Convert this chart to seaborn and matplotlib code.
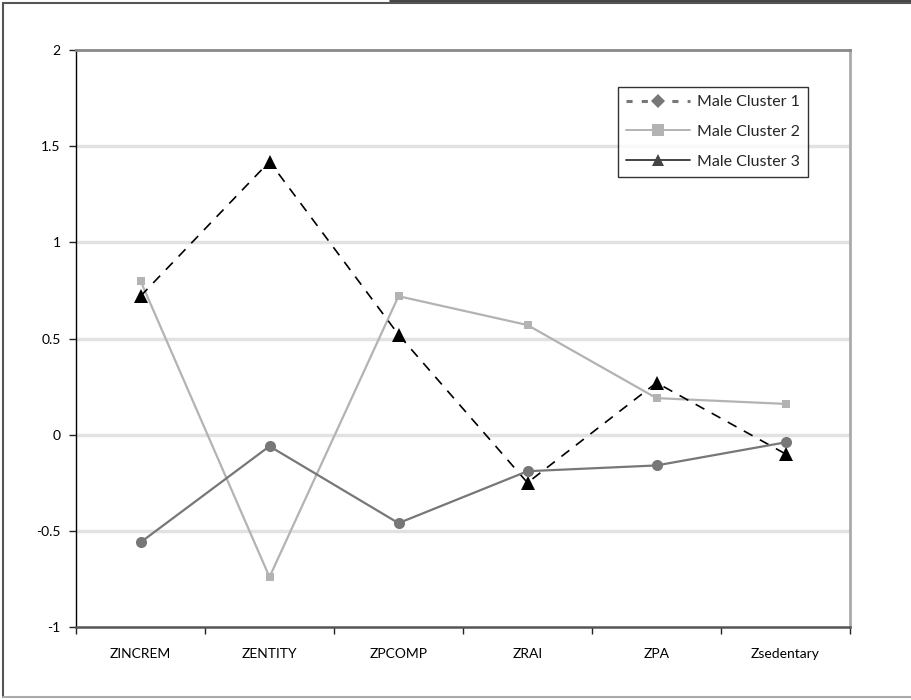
import matplotlib
matplotlib.use("Agg")
import matplotlib.pyplot as plt
from matplotlib.lines import Line2D
import seaborn as sns
import pandas as pd

# Cluster profile data (z-scores per variable)
categories = ["ZINCREM", "ZENTITY", "ZPCOMP", "ZRAI", "ZPA", "Zsedentary"]
cluster1 = [0.72, 1.42, 0.52, -0.25, 0.27, -0.10]
cluster2 = [0.80, -0.74, 0.72, 0.57, 0.19, 0.16]
cluster3 = [-0.56, -0.06, -0.46, -0.19, -0.16, -0.04]
series_names = ["Male Cluster 1", "Male Cluster 2", "Male Cluster 3"]
y_ticks = [-1, -0.5, 0, 0.5, 1, 1.5, 2]
y_tick_labels = ["-1", "-0.5", "0", "0.5", "1", "1.5", "2"]

sns.set_style("white")
plt.rcParams["font.family"] = ["Lato", "DejaVu Sans"]

fig = plt.figure(figsize=(9.11, 7.0), dpi=100)
W, H = 911, 700
ax = fig.add_axes([76 / W, 1 - 627 / H, (850 - 76) / W, (627 - 50) / H])

df = pd.DataFrame({"category": categories * 3,
                   "value": cluster1 + cluster2 + cluster3,
                   "series": [series_names[0]] * 6 + [series_names[1]] * 6 + [series_names[2]] * 6})

# Light gray squares
sns.lineplot(data=df[df.series == series_names[1]], x="category", y="value", sort=False,
             ax=ax, color="#b3b3b3", lw=1.6, marker="s", markersize=5.5,
             markeredgewidth=0, zorder=3, legend=False)
# Dashed black with triangles
sns.lineplot(data=df[df.series == series_names[0]], x="category", y="value", sort=False,
             ax=ax, color="black", lw=1.2, marker="^", markersize=9.5,
             markeredgewidth=0, dashes=False, zorder=4, legend=False)
ax.lines[-1].set_dashes([6, 5])
# Dark gray circles
sns.lineplot(data=df[df.series == series_names[2]], x="category", y="value", sort=False,
             ax=ax, color="#777777", lw=1.6, marker="o", markersize=8,
             markeredgewidth=0, zorder=5, legend=False)

ax.set_xlim(-0.5, 5.5)
ax.set_ylim(-1, 2)
ax.set_xlabel("")
ax.set_ylabel("")

# Horizontal gridlines
for yv in y_ticks[1:-1]:
    ax.axhline(yv, color="#e2e2e2", lw=2.5, zorder=1)

ax.set_yticks(y_ticks)
ax.set_yticklabels(y_tick_labels)
ax.set_xticks(range(len(categories)))
ax.set_xticklabels(categories)
ax.set_xticks([i - 0.5 for i in range(len(categories) + 1)], minor=True)
ax.tick_params(axis="x", which="major", length=0, pad=15, labelsize=10, colors="black")
ax.tick_params(axis="x", which="minor", length=5, width=1, color="#222222", direction="out", bottom=True)
ax.tick_params(axis="y", length=5, width=1, color="#222222", direction="out", left=True,
               pad=6, labelsize=10, colors="black")

ax.spines["left"].set_color("black")
ax.spines["left"].set_linewidth(1.0)
ax.spines["bottom"].set_color("#555555")
ax.spines["bottom"].set_linewidth(1.8)
ax.spines["top"].set_color("#888888")
ax.spines["top"].set_linewidth(2.0)
ax.spines["right"].set_color("#aaaaaa")
ax.spines["right"].set_linewidth(2.0)

handles = [
    Line2D([], [], color="#777777", lw=2.2, dashes=[2, 3], marker="D", markersize=7,
           markeredgewidth=0),
    Line2D([], [], color="#b3b3b3", lw=1.4, marker="s", markersize=8, markeredgewidth=0),
    Line2D([], [], color="#444444", lw=1.4, marker="^", markersize=9, markeredgewidth=0),
]
leg = ax.legend(handles, series_names, loc="upper left",
                bbox_to_anchor=(618 / W, 1 - 87 / H), bbox_transform=fig.transFigure,
                frameon=True, fancybox=False, edgecolor="black", fontsize=11.5,
                handlelength=4.0, labelspacing=0.97, borderpad=0.5, handletextpad=0.45,
                borderaxespad=0)
leg.get_frame().set_linewidth(1.0)

# Outer chart frame
fig.add_artist(Line2D([3 / W, 3 / W], [1 - 3 / H, 3 / H], transform=fig.transFigure,
                      color="#555555", lw=1.5))
fig.add_artist(Line2D([3 / W, 1], [1 - 3 / H, 1 - 3 / H], transform=fig.transFigure,
                      color="#555555", lw=1.5))
fig.add_artist(Line2D([3 / W, 1], [3 / H, 3 / H], transform=fig.transFigure,
                      color="#aaaaaa", lw=1.5))
fig.add_artist(Line2D([390 / W, 1], [1 - 0.5 / H, 1 - 0.5 / H], transform=fig.transFigure,
                      color="#222222", lw=1.2))

fig.savefig("out.png", dpi=100)
